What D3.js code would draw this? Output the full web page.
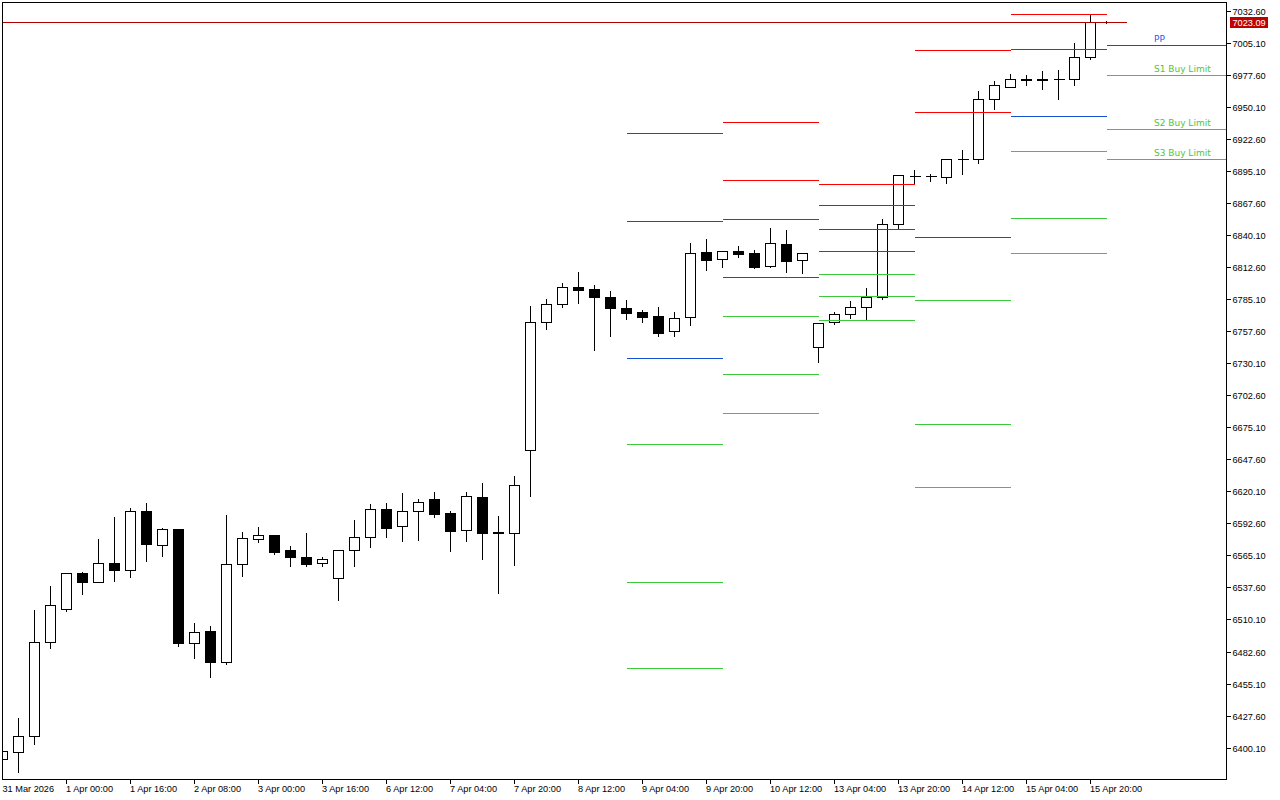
<!DOCTYPE html>
<html>
<head>
<meta charset="utf-8">
<script src="https://cdn.jsdelivr.net/npm/d3@7"></script>
<style>
html,body{margin:0;padding:0;background:#ffffff;}
svg{display:block;}
</style>
</head>
<body>
<svg id="chart" width="1280" height="800"></svg>
<script>
// ---------- DATA ----------
const opens = [6390.1,6396.6,6410.4,6491.0,6518.8,6549.7,6542.5,6558.6,6552.8,6602.9,
  6573.8,6587.5,6490.2,6500.0,6473.9,6557.5,6578.9,6582.3,6569.5,6563.5,
  6558.3,6545.4,6569.5,6580.6,6604.7,6590.1,6602.9,6613.2,6601.2,6586.6,
  6615.0,6585.0,6584.1,6655.3,6765.1,6780.6,6795.4,6793.4,6786.6,6777.4,
  6774.0,6770.3,6757.4,6769.4,6825.2,6819.2,6826.3,6824.3,6813.2,6832.3,
  6818.3,6743.7,6765.1,6772.0,6778.0,6786.8,6849.2,6890.7,6890.8,6890.1,
  6905.0,6905.0,6956.5,6966.8,6973.8,6973.6,6973.5,6973.6,6992.5,7022.9];
const highs = [6398.1,6426.4,6519.1,6539.7,6549.7,6551.7,6579.8,6599.2,6606.6,6610.9,
  6589.5,6588.3,6507.9,6505.4,6600.6,6586.0,6590.3,6583.5,6574.0,6585.2,
  6564.3,6570.3,6596.1,6610.1,6610.9,6619.5,6614.4,6620.4,6604.0,6620.4,
  6628.1,6599.5,6633.8,6780.0,6786.0,6799.7,6809.2,6798.0,6792.9,6785.1,
  6776.5,6779.1,6774.8,6834.0,6837.5,6827.2,6831.5,6828.0,6846.9,6845.2,
  6824.3,6764.3,6774.8,6784.3,6795.4,6854.4,6892.4,6896.7,6893.3,6905.0,
  6913.9,6964.5,6973.1,6979.1,6978.2,6981.6,6982.5,7005.7,7029.4,7024.5];
const lows = [6389.5,6379.5,6403.2,6485.9,6517.6,6532.2,6542.0,6543.4,6546.8,6560.5,
  6564.6,6487.6,6477.0,6461.0,6471.6,6547.7,6576.8,6566.5,6556.3,6556.3,
  6556.3,6527.1,6556.3,6572.6,6581.1,6577.7,6578.6,6598.3,6569.1,6577.7,
  6562.3,6533.1,6557.1,6616.3,6759.6,6778.5,6782.0,6741.6,6753.6,6768.2,
  6765.6,6753.6,6753.6,6763.1,6810.3,6812.8,6821.4,6812.0,6812.6,6808.6,
  6807.7,6731.3,6763.7,6768.6,6767.1,6785.1,6844.9,6884.7,6886.6,6884.9,
  6892.7,6902.1,6948.4,6966.8,6969.0,6965.6,6957.0,6969.0,6991.3,7022.4];
const closes = [6397.2,6409.8,6490.5,6522.3,6549.7,6542.5,6558.6,6552.8,6602.9,6575.1,
  6587.5,6490.2,6499.1,6473.9,6557.5,6579.8,6582.3,6568.3,6564.0,6558.0,
  6561.7,6569.5,6580.6,6604.7,6588.9,6602.9,6610.7,6600.9,6586.3,6615.8,
  6584.6,6584.4,6625.2,6765.1,6780.6,6795.2,6793.1,6787.1,6777.7,6773.4,
  6769.9,6756.2,6768.6,6824.3,6818.9,6826.1,6824.0,6812.8,6832.9,6818.0,
  6824.3,6764.3,6772.0,6778.0,6786.8,6849.2,6891.3,6890.8,6890.6,6905.0,
  6905.1,6956.5,6968.5,6973.7,6973.0,6972.9,6973.6,6992.5,7022.6,7023.09];

const xTickIndex = [0,4,8,12,16,20,24,28,32,36,40,44,48,52,56,60,64,68];
const xTickLabels = ["31 Mar 2026","1 Apr 00:00","1 Apr 16:00","2 Apr 08:00","3 Apr 00:00",
  "3 Apr 16:00","6 Apr 12:00","7 Apr 04:00","7 Apr 20:00","8 Apr 12:00","9 Apr 04:00",
  "9 Apr 20:00","10 Apr 12:00","13 Apr 04:00","13 Apr 20:00","14 Apr 12:00",
  "15 Apr 04:00","15 Apr 20:00"];
const yTickValues = [6400.10,6427.60,6455.10,6482.60,6510.10,6537.60,6565.10,6592.60,
  6620.10,6647.60,6675.10,6702.60,6730.10,6757.60,6785.10,6812.60,6840.10,6867.60,
  6895.10,6922.60,6950.10,6977.60,7005.10,7032.60];

// daily pivot levels (segment start/end as bar index; null end = to right edge)
const pivotStart = [39,45,51,57,63,69];
const pivotEnd   = [45,51,57,63,69,null];
const r3Levels = [null,6937.0,6883.8,null,null,null];
const r2Levels = [6927.6,6887.3,6865.6,6998.6,7029.5,null];
const r1Levels = [6851.8,6853.5,6845.0,6945.4,6999.4,null];
const ppLevels = [6734.3,6803.8,6826.1,6838.1,6941.9,7003.1];
const s1Levels = [6660.7,6770.3,6806.4,6784.0,6911.9,6977.1];
const s2Levels = [6542.3,6720.5,6787.5,6677.9,6854.4,6931.0];
const s3Levels = [6468.5,6687.3,6766.9,6623.8,6824.4,6905.3];
const pivotLabelNames = ["PP","S1 Buy Limit","S2 Buy Limit","S3 Buy Limit"];
const pivotLabelIndex = 72;

const currentPrice = 7023.09;
const priceLineEndIndex = 70.3;

// ---------- LAYOUT ----------
const W = 1280, H = 800;
const plotL = 2.5, plotR = 1226.5, plotT = 2.5, plotB = 779.5;
const RED = "#ff0000", BLUE = "#1450d2", GREEN = "#3cc83c";
const PRICE_RED = "#c00000";
const axisFont = "'Liberation Sans', Arial, sans-serif";
const labelFont = "'DejaVu Sans', Verdana, sans-serif";

const svg = d3.select("#chart");
svg.append("rect").attr("width", W).attr("height", H).attr("fill", "#ffffff");

const x = d3.scaleLinear().domain([0, 75]).range([2.5, 1202.5]);
const y = d3.scaleLinear().domain([6373.2, 7040.0]).range([779, 2]);
const py = v => Math.round(y(v)) + 0.5;

svg.append("defs").append("clipPath").attr("id", "plotclip")
  .append("rect").attr("x", plotL).attr("y", plotT)
  .attr("width", plotR - plotL).attr("height", plotB - plotT);

const plot = svg.append("g").attr("clip-path", "url(#plotclip)")
  .attr("shape-rendering", "crispEdges");

const candles = opens.map((o, i) => ({ i, o, h: highs[i], l: lows[i], c: closes[i] }));

// wicks
plot.append("g").selectAll("line").data(candles).join("line")
  .attr("x1", d => x(d.i)).attr("x2", d => x(d.i))
  .attr("y1", d => py(d.h)).attr("y2", d => py(d.l))
  .attr("stroke", "#000").attr("stroke-width", 1);

// bodies
const bodies = plot.append("g");
candles.forEach(d => {
  const cx = x(d.i);
  const top = Math.round(y(Math.max(d.o, d.c)));
  const bot = Math.round(y(Math.min(d.o, d.c)));
  if (bot - top < 1) {
    bodies.append("line").attr("x1", cx - 5).attr("x2", cx + 6)
      .attr("y1", top + 0.5).attr("y2", top + 0.5)
      .attr("stroke", "#000").attr("stroke-width", 1);
  } else {
    bodies.append("rect").attr("x", cx - 5).attr("y", top + 0.5)
      .attr("width", 10).attr("height", bot - top)
      .attr("fill", d.c >= d.o ? "#ffffff" : "#000000")
      .attr("stroke", "#000").attr("stroke-width", 1);
  }
});

// current price line
plot.append("line")
  .attr("x1", plotL).attr("x2", x(priceLineEndIndex))
  .attr("y1", py(currentPrice)).attr("y2", py(currentPrice))
  .attr("stroke", "#b00000").attr("stroke-width", 1);

// pivot segments
const pivotSets = [
  { vals: r3Levels, color: RED }, { vals: r2Levels, color: RED }, { vals: r1Levels, color: RED },
  { vals: ppLevels, color: BLUE },
  { vals: s1Levels, color: GREEN }, { vals: s2Levels, color: GREEN }, { vals: s3Levels, color: GREEN }
];
const segs = [];
pivotSets.forEach(set => {
  set.vals.forEach((v, k) => {
    if (v == null) return;
    segs.push({ v, color: set.color, x1: x(pivotStart[k]),
      x2: pivotEnd[k] == null ? plotR : x(pivotEnd[k]) });
  });
});
plot.append("g").selectAll("line").data(segs).join("line")
  .attr("x1", d => d.x1).attr("x2", d => d.x2)
  .attr("y1", d => py(d.v)).attr("y2", d => py(d.v))
  .attr("stroke", d => d.color).attr("stroke-width", 1);

// pivot labels on last day
const lastK = pivotStart.length - 1;
const labelLevels = [ppLevels[lastK], s1Levels[lastK], s2Levels[lastK], s3Levels[lastK]];
const labelColors = ["#1e5ae6", "#4cc838", "#4cc838", "#4cc838"];
svg.append("g").selectAll("text").data(pivotLabelNames).join("text")
  .attr("x", x(pivotLabelIndex) - 0.5)
  .attr("y", (d, k) => Math.round(y(labelLevels[k])) - 3)
  .attr("font-family", labelFont).attr("font-size", "9px")
  .attr("fill", (d, k) => labelColors[k])
  .text(d => d);

// frame
const frame = svg.append("g").attr("shape-rendering", "crispEdges");
frame.append("rect").attr("x", plotL).attr("y", plotT)
  .attr("width", plotR - plotL).attr("height", plotB - plotT)
  .attr("fill", "none").attr("stroke", "#000").attr("stroke-width", 1);

// y axis (right)
const yAxisG = svg.append("g");
yTickValues.forEach(v => {
  const yy = py(v);
  yAxisG.append("line").attr("x1", plotR).attr("x2", plotR + 4.5)
    .attr("y1", yy).attr("y2", yy).attr("stroke", "#000")
    .attr("shape-rendering", "crispEdges");
  yAxisG.append("text").attr("x", plotR + 6).attr("y", yy)
    .attr("dy", "0.35em")
    .attr("font-family", axisFont).attr("font-size", "9.2px").attr("fill", "#000")
    .text(d3.format(".2f")(v));
});

// current price tag
const cp = Math.round(y(currentPrice));
svg.append("rect").attr("x", plotR + 3.5).attr("y", cp - 5)
  .attr("width", 38).attr("height", 11).attr("fill", PRICE_RED)
  .attr("shape-rendering", "crispEdges");
svg.append("text").attr("x", plotR + 6).attr("y", cp + 0.5).attr("dy", "0.35em")
  .attr("font-family", axisFont).attr("font-size", "9.2px").attr("fill", "#ffffff")
  .text(d3.format(".2f")(currentPrice));

// x axis (bottom)
const xAxisG = svg.append("g");
xTickIndex.forEach((idx, k) => {
  const xx = x(idx);
  if (idx > 0) {
    xAxisG.append("line").attr("x1", xx).attr("x2", xx)
      .attr("y1", plotB).attr("y2", plotB + 4).attr("stroke", "#000")
      .attr("shape-rendering", "crispEdges");
  }
  xAxisG.append("text").attr("x", Math.max(xx - 0.5, plotL))
    .attr("y", 792)
    .attr("font-family", axisFont).attr("font-size", "9.2px").attr("fill", "#000")
    .text(xTickLabels[k]);
});
</script>
</body>
</html>
